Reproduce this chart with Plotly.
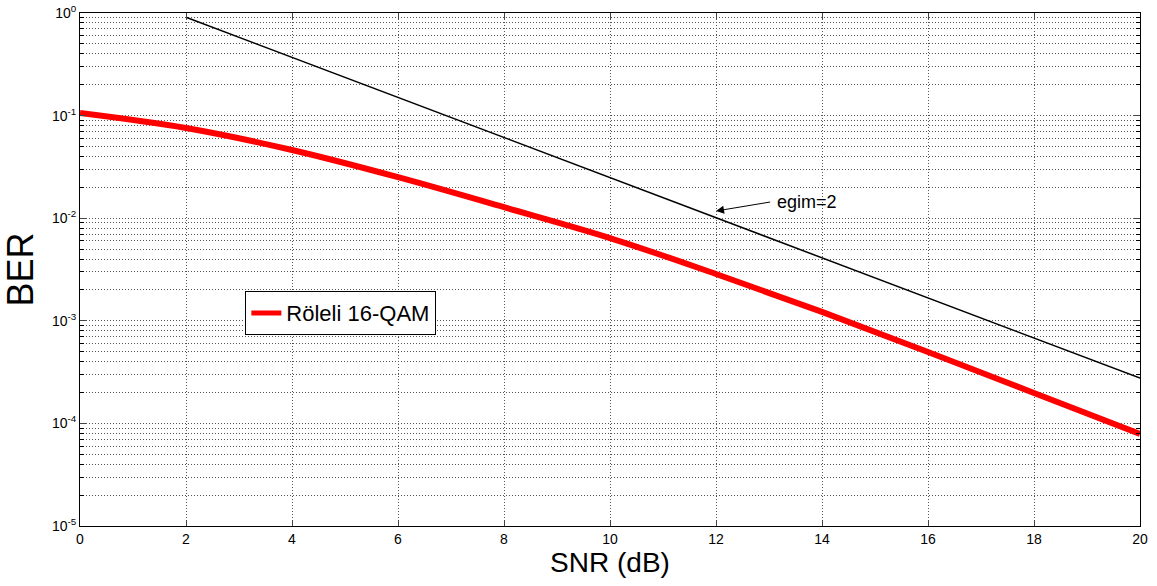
import plotly.graph_objects as go

# SNR (dB) sample points and relay 16-QAM BER
snr_db = [0, 2, 4, 6, 8, 10, 12, 14, 16, 18, 20]
ber_relay = [0.106, 0.0757, 0.0462, 0.0251, 0.0128, 0.00641, 0.00286, 0.00122, 0.000497, 0.000198, 0.000079]

# Reference line of diversity order (slope) 2
slope_snr = [2, 20]
slope_ber = [0.91, 0.000276]

x_ticks = [0, 2, 4, 6, 8, 10, 12, 14, 16, 18, 20]
y_ticks = [1e-5, 1e-4, 1e-3, 1e-2, 1e-1, 1e0]
y_ticktext = ["10<sup>-5</sup>", "10<sup>-4</sup>", "10<sup>-3</sup>",
              "10<sup>-2</sup>", "10<sup>-1</sup>", "10<sup>0</sup>"]

fig = go.Figure()
fig.add_trace(go.Scatter(x=slope_snr, y=slope_ber, mode="lines",
                         line=dict(color="black", width=1.5), showlegend=False))
fig.add_trace(go.Scatter(x=snr_db, y=ber_relay, mode="lines", name="Röleli 16-QAM",
                         line=dict(color="#ff0000", width=6, shape="spline")))

fig.add_annotation(x=12, y=-1.93, xref="x", yref="y", ax=13.05, ay=-1.84,
                   axref="x", ayref="y", text="", showarrow=True,
                   arrowhead=2, arrowsize=1.6, arrowwidth=1, arrowcolor="black")
fig.add_annotation(x=13.72, y=-1.84, xref="x", yref="y", text="egim=2",
                   showarrow=False, font=dict(size=18, color="black"))

grid = "#555555"
dots = "1px,2px"
fig.update_xaxes(range=[0, 20], tickvals=x_ticks, ticks="inside", ticklen=6,
                 showgrid=True, gridcolor=grid, griddash=dots, gridwidth=1,
                 showline=True, linecolor="black", linewidth=1, mirror="ticks",
                 zeroline=False, automargin=False, tickfont=dict(size=14, color="black"),
                 title=dict(text="SNR (dB)", font=dict(size=28, color="black"), standoff=4))
fig.update_yaxes(type="log", range=[-5, 0], tickvals=y_ticks, ticktext=y_ticktext,
                 ticks="inside", ticklen=6,
                 showgrid=True, gridcolor=grid, griddash=dots, gridwidth=1,
                 minor=dict(dtick="D1", ticks="inside", ticklen=4, tickcolor="black",
                            showgrid=True, gridcolor=grid, griddash=dots),
                 showline=True, linecolor="black", linewidth=1, mirror="ticks",
                 zeroline=False, automargin=False, tickfont=dict(size=14, color="black"),
                 title=dict(text="BER", font=dict(size=36, color="black"), standoff=10))

fig.update_layout(
    width=1157, height=586,
    margin=dict(l=80, r=17, t=13, b=60, autoexpand=False),
    paper_bgcolor="white", plot_bgcolor="white",
    font=dict(family="Liberation Sans, Arial, sans-serif", color="black"),
    legend=dict(x=0.156, y=0.415, xanchor="left", yanchor="middle",
                bgcolor="white", bordercolor="black", borderwidth=1,
                tracegroupgap=0, itemsizing="constant",
                font=dict(size=22, color="black")),
)

fig.write_html("out.html")
